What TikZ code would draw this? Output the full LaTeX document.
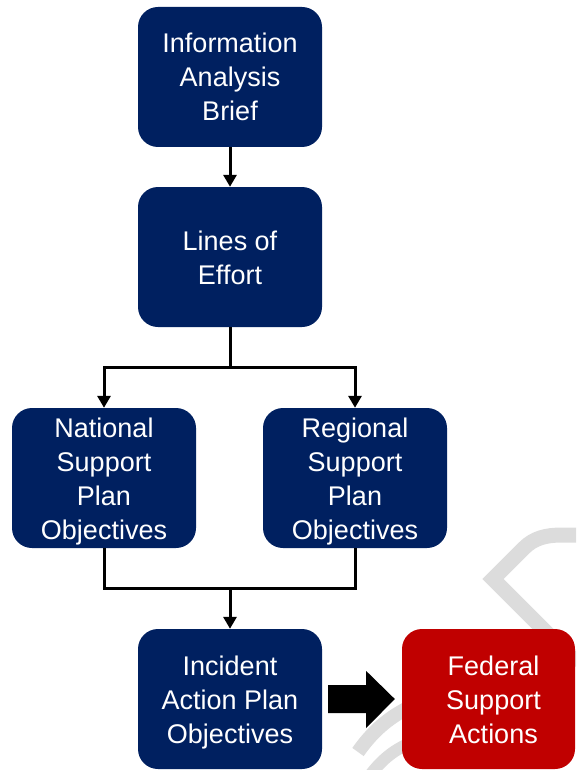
\documentclass[tikz,border=0pt]{standalone}
\usepackage{fontspec}
\setmainfont{Liberation Sans}
\usetikzlibrary{arrows.meta,calc}
\definecolor{navy}{HTML}{002060}
\definecolor{fedred}{HTML}{C00000}
\definecolor{wmgray}{HTML}{DCDCDC}
\newcommand\bxs{\rule[-7pt]{0pt}{34pt}}
\tikzset{
  boxtext/.style={text=white, align=center, inner sep=0pt,
    font=\fontsize{27}{34}\selectfont},
  box/.style={boxtext, rounded corners=20pt, fill=navy,
    minimum width=184pt, minimum height=140pt},
  redbox/.style={box, fill=fedred, minimum width=173pt},
  conn/.style={line width=3pt, draw=black},
  arr/.style={conn, -{Triangle[width=13pt,length=12pt]}},
  wm/.style={draw=wmgray, line width=15pt}
}
\begin{document}
\begin{tikzpicture}[x=1pt,y=-1pt]
\useasboundingbox (0,0) rectangle (576,770);
\clip (0,0) rectangle (576,770);
% watermark
\draw[wm, line join=miter] (578,664) -- (493,579) -- (524,548)
  .. controls (534,538) and (546,535) .. (562,535) -- (590,535);
\draw[wm, line width=14pt] (358,752) .. controls (372,732) and (388,718) .. (408,708);
\draw[wm, line width=12pt] (368,778) .. controls (378,764) and (390,752) .. (408,744);
% boxes
\node[box] (info) at (230,77) {\bxs Information\\Analysis\\Brief\bxs};
\node[box] (loe) at (230,257) {\bxs Lines of\\Effort\bxs};
\node[box] (nat) at (104,478) {\bxs National\\Support\\Plan\\Objectives\bxs};
\node[box] (reg) at (355,478) {\bxs Regional\\Support\\Plan\\Objectives\bxs};
\node[box] (iap) at (230,699) {\bxs Incident\\Action Plan\\Objectives\bxs};
\node[redbox] (fed) at (488.5,699) {};
\node[boxtext] (fedtext) at ($(fed.center)+(5,0)$) {\bxs Federal\\Support\\Actions\bxs};
% connectors
\draw[arr] (info.south) -- (loe.north);
\coordinate (j1) at ($(loe.south)+(0,40)$);
\draw[conn] (loe.south) -- (j1);
\draw[arr] (j1) -| (nat.north);
\draw[arr] (j1) -| (reg.north);
\coordinate (j2) at ($(nat.south)!0.5!(reg.south)+(0,40)$);
\draw[conn, line join=miter] (nat.south) -- ++(0,40) -| (reg.south);
\draw[arr] (iap.north |- j2) -- (iap.north);
% block arrow
\fill[black] ($(iap.east)+(6,-14)$) -- ($(iap.east)+(44,-14)$) -- ($(iap.east)+(44,-28)$)
  -- ($(fed.west)+(-7,0)$) -- ($(iap.east)+(44,29)$) -- ($(iap.east)+(44,14)$)
  -- ($(iap.east)+(6,14)$) -- cycle;
\end{tikzpicture}
\end{document}
